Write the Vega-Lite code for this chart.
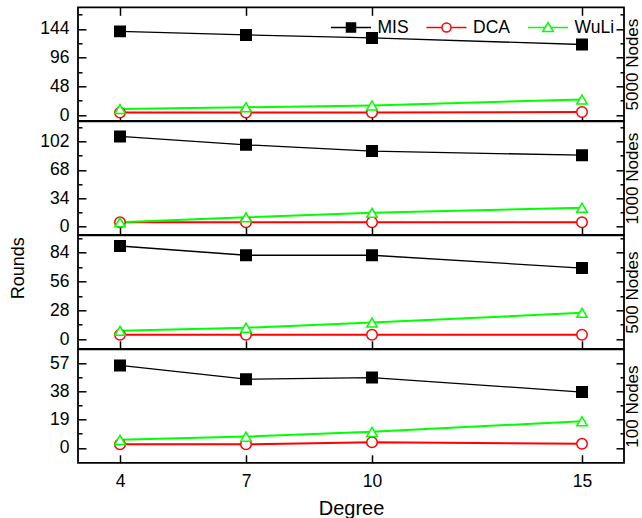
{
  "$schema": "https://vega.github.io/schema/vega-lite/v6.json",
  "autosize": {"type": "none"},
  "padding": {"left": 78, "top": 7.3, "right": 564, "bottom": 510.7},
  "background": "white",
  "data": {"values": [
    {"Panel": "5000", "Degree": 4, "Series": "MIS", "Rounds": 140},
    {"Panel": "5000", "Degree": 7, "Series": "MIS", "Rounds": 134},
    {"Panel": "5000", "Degree": 10, "Series": "MIS", "Rounds": 129},
    {"Panel": "5000", "Degree": 15, "Series": "MIS", "Rounds": 118},
    {"Panel": "5000", "Degree": 4, "Series": "DCA", "Rounds": 4},
    {"Panel": "5000", "Degree": 7, "Series": "DCA", "Rounds": 4},
    {"Panel": "5000", "Degree": 10, "Series": "DCA", "Rounds": 4},
    {"Panel": "5000", "Degree": 15, "Series": "DCA", "Rounds": 5},
    {"Panel": "5000", "Degree": 4, "Series": "WuLi", "Rounds": 10},
    {"Panel": "5000", "Degree": 7, "Series": "WuLi", "Rounds": 13},
    {"Panel": "5000", "Degree": 10, "Series": "WuLi", "Rounds": 16},
    {"Panel": "5000", "Degree": 15, "Series": "WuLi", "Rounds": 26},
    {"Panel": "1000", "Degree": 4, "Series": "MIS", "Rounds": 108},
    {"Panel": "1000", "Degree": 7, "Series": "MIS", "Rounds": 98},
    {"Panel": "1000", "Degree": 10, "Series": "MIS", "Rounds": 90.5},
    {"Panel": "1000", "Degree": 15, "Series": "MIS", "Rounds": 85.5},
    {"Panel": "1000", "Degree": 4, "Series": "DCA", "Rounds": 5},
    {"Panel": "1000", "Degree": 7, "Series": "DCA", "Rounds": 5},
    {"Panel": "1000", "Degree": 10, "Series": "DCA", "Rounds": 5},
    {"Panel": "1000", "Degree": 15, "Series": "DCA", "Rounds": 5},
    {"Panel": "1000", "Degree": 4, "Series": "WuLi", "Rounds": 5},
    {"Panel": "1000", "Degree": 7, "Series": "WuLi", "Rounds": 11},
    {"Panel": "1000", "Degree": 10, "Series": "WuLi", "Rounds": 16.4},
    {"Panel": "1000", "Degree": 15, "Series": "WuLi", "Rounds": 22.5},
    {"Panel": "500", "Degree": 4, "Series": "MIS", "Rounds": 90.5},
    {"Panel": "500", "Degree": 7, "Series": "MIS", "Rounds": 81.5},
    {"Panel": "500", "Degree": 10, "Series": "MIS", "Rounds": 81.5},
    {"Panel": "500", "Degree": 15, "Series": "MIS", "Rounds": 69},
    {"Panel": "500", "Degree": 4, "Series": "DCA", "Rounds": 4.2},
    {"Panel": "500", "Degree": 7, "Series": "DCA", "Rounds": 4.2},
    {"Panel": "500", "Degree": 10, "Series": "DCA", "Rounds": 4.2},
    {"Panel": "500", "Degree": 15, "Series": "DCA", "Rounds": 4.2},
    {"Panel": "500", "Degree": 4, "Series": "WuLi", "Rounds": 8},
    {"Panel": "500", "Degree": 7, "Series": "WuLi", "Rounds": 11},
    {"Panel": "500", "Degree": 10, "Series": "WuLi", "Rounds": 16},
    {"Panel": "500", "Degree": 15, "Series": "WuLi", "Rounds": 25.5},
    {"Panel": "100", "Degree": 4, "Series": "MIS", "Rounds": 55.7},
    {"Panel": "100", "Degree": 7, "Series": "MIS", "Rounds": 46.4},
    {"Panel": "100", "Degree": 10, "Series": "MIS", "Rounds": 47.5},
    {"Panel": "100", "Degree": 15, "Series": "MIS", "Rounds": 37.7},
    {"Panel": "100", "Degree": 4, "Series": "DCA", "Rounds": 2.4},
    {"Panel": "100", "Degree": 7, "Series": "DCA", "Rounds": 2.4},
    {"Panel": "100", "Degree": 10, "Series": "DCA", "Rounds": 3.8},
    {"Panel": "100", "Degree": 15, "Series": "DCA", "Rounds": 2.7},
    {"Panel": "100", "Degree": 4, "Series": "WuLi", "Rounds": 5.4},
    {"Panel": "100", "Degree": 7, "Series": "WuLi", "Rounds": 7.6},
    {"Panel": "100", "Degree": 10, "Series": "WuLi", "Rounds": 10.8},
    {"Panel": "100", "Degree": 15, "Series": "WuLi", "Rounds": 18}
  ]},
  "spacing": 0,
  "bounds": "flush",
  "resolve": {"scale": {"x": "independent", "y": "independent", "color": "independent", "stroke": "independent", "shape": "independent", "fill": "independent", "strokeWidth": "independent"}},
  "vconcat": [
    {
      "width": 546, "height": 113.5,
      "transform": [{"filter": "datum.Panel === '5000'"}],
      "resolve": {"scale": {"x": "independent", "y": "independent", "shape": "independent", "stroke": "independent", "fill": "independent"}},
      "layer": [
        {
          "mark": {"type": "line"},
          "encoding": {
            "x": {"field": "Degree", "type": "quantitative", "scale": {"domain": [3, 16]}, "axis": {"values": [4, 7, 10, 15], "tickSize": -8, "labels": false, "title": null}},
            "y": {"field": "Rounds", "type": "quantitative", "scale": {"domain": [-9.7, 180.3]}, "axis": {"values": [0, 24, 48, 72, 96, 120, 144, 168], "labelExpr": "datum.value % 48 === 0 ? datum.label : ''", "tickSize": {"condition": {"test": "datum.value % 48 === 0", "value": -8}, "value": -4}, "labelPadding": 17, "title": null}},
            "color": {"field": "Series", "type": "nominal", "scale": {"domain": ["MIS", "DCA", "WuLi"], "range": ["#000000", "#ff0000", "#00ff00"]}, "legend": null},
            "strokeWidth": {"field": "Series", "type": "nominal", "scale": {"type": "ordinal", "domain": ["MIS", "DCA", "WuLi"], "range": [1.3, 2, 2]}, "legend": null}
          }
        },
        {
          "mark": {"type": "point", "filled": true, "opacity": 1, "size": 110, "strokeWidth": 1.5},
          "encoding": {
            "x": {"field": "Degree", "type": "quantitative", "scale": {"domain": [3, 16]}, "axis": null},
            "y": {"field": "Rounds", "type": "quantitative", "scale": {"domain": [-9.7, 180.3]}, "axis": null},
            "shape": {"field": "Series", "type": "nominal", "scale": {"domain": ["MIS", "DCA", "WuLi"], "range": ["square", "circle", "triangle-up"]}, "legend": null},
            "stroke": {"field": "Series", "type": "nominal", "scale": {"domain": ["MIS", "DCA", "WuLi"], "range": ["#000000", "#ff0000", "#00ff00"]}, "legend": null},
            "fill": {"field": "Series", "type": "nominal", "scale": {"domain": ["MIS", "DCA", "WuLi"], "range": ["#000000", "#ffffff", "#ffffff"]}, "legend": null}
          }
        },
        {
          "mark": {"type": "point", "opacity": 0, "size": 400, "strokeWidth": 1.5},
          "encoding": {
            "x": {"field": "Degree", "type": "quantitative", "scale": {"domain": [3, 16]}, "axis": {"orient": "top", "values": [4, 7, 10, 15], "tickSize": -8, "labels": false, "title": null}},
            "y": {"field": "Rounds", "type": "quantitative", "scale": {"domain": [-9.7, 180.3]}, "axis": {"orient": "right", "values": [0, 24, 48, 72, 96, 120, 144, 168], "labels": false, "tickSize": {"condition": {"test": "datum.value % 48 === 0", "value": -8}, "value": -4}, "title": "5000 Nodes", "titleAngle": 270, "titleBaseline": "top", "titlePadding": 0, "titleFontSize": 17}},
            "shape": {"field": "Series", "type": "nominal",
              "scale": {"domain": ["MIS", "DCA", "WuLi"], "range": [
                "M-2,0H-0.45M0.45,0H2M-0.45,-0.45H0.45V0.45H-0.45Z",
                "M-2,0H-0.45M0.45,0H2M-0.45,0A0.45,0.45,0,1,0,0.45,0A0.45,0.45,0,1,0,-0.45,0Z",
                "M-2,0H-0.3M0.3,0H2M0,-0.5L0.53,0.4L-0.53,0.4Z"]},
              "legend": {"orient": "top-right", "direction": "horizontal", "title": null, "offset": 9, "padding": 0, "symbolSize": 400, "symbolStrokeWidth": 1.5, "symbolOpacity": 1, "labelFontSize": 17.5, "labelFont": "Liberation Sans", "labelColor": "black", "labelOffset": 15.5, "columnPadding": 14.5}},
            "stroke": {"field": "Series", "type": "nominal", "scale": {"domain": ["MIS", "DCA", "WuLi"], "range": ["#000000", "#ff0000", "#00ff00"]},
              "legend": {"orient": "top-right", "direction": "horizontal", "title": null, "offset": 9, "padding": 0, "symbolSize": 400, "symbolStrokeWidth": 1.5, "symbolOpacity": 1, "labelFontSize": 17.5, "labelFont": "Liberation Sans", "labelColor": "black", "labelOffset": 15.5, "columnPadding": 14.5}},
            "fill": {"field": "Series", "type": "nominal", "scale": {"domain": ["MIS", "DCA", "WuLi"], "range": ["#000000", "transparent", "transparent"]},
              "legend": {"orient": "top-right", "direction": "horizontal", "title": null, "offset": 9, "padding": 0, "symbolSize": 400, "symbolStrokeWidth": 1.5, "symbolOpacity": 1, "labelFontSize": 17.5, "labelFont": "Liberation Sans", "labelColor": "black", "labelOffset": 15.5, "columnPadding": 14.5}}
          }
        }
      ]
    },
    {
      "width": 546, "height": 113.5,
      "transform": [{"filter": "datum.Panel === '1000'"}],
      "resolve": {"scale": {"x": "independent", "y": "independent", "shape": "independent", "stroke": "independent", "fill": "independent"}},
      "layer": [
        {
          "mark": {"type": "line"},
          "encoding": {
            "x": {"field": "Degree", "type": "quantitative", "scale": {"domain": [3, 16]}, "axis": {"values": [4, 7, 10, 15], "tickSize": -8, "labels": false, "title": null}},
            "y": {"field": "Rounds", "type": "quantitative", "scale": {"domain": [-10, 126.2]}, "axis": {"values": [0, 17, 34, 51, 68, 85, 102, 119], "labelExpr": "datum.value % 34 === 0 ? datum.label : ''", "tickSize": {"condition": {"test": "datum.value % 34 === 0", "value": -8}, "value": -4}, "labelPadding": 17, "title": "Rounds", "titleY": 146.5, "titleAlign": "center", "titlePadding": 12, "titleFontSize": 18}},
            "color": {"field": "Series", "type": "nominal", "scale": {"domain": ["MIS", "DCA", "WuLi"], "range": ["#000000", "#ff0000", "#00ff00"]}, "legend": null},
            "strokeWidth": {"field": "Series", "type": "nominal", "scale": {"type": "ordinal", "domain": ["MIS", "DCA", "WuLi"], "range": [1.3, 2, 2]}, "legend": null}
          }
        },
        {
          "mark": {"type": "point", "filled": true, "opacity": 1, "size": 110, "strokeWidth": 1.5},
          "encoding": {
            "x": {"field": "Degree", "type": "quantitative", "scale": {"domain": [3, 16]}, "axis": null},
            "y": {"field": "Rounds", "type": "quantitative", "scale": {"domain": [-10, 126.2]}, "axis": null},
            "shape": {"field": "Series", "type": "nominal", "scale": {"domain": ["MIS", "DCA", "WuLi"], "range": ["square", "circle", "triangle-up"]}, "legend": null},
            "stroke": {"field": "Series", "type": "nominal", "scale": {"domain": ["MIS", "DCA", "WuLi"], "range": ["#000000", "#ff0000", "#00ff00"]}, "legend": null},
            "fill": {"field": "Series", "type": "nominal", "scale": {"domain": ["MIS", "DCA", "WuLi"], "range": ["#000000", "#ffffff", "#ffffff"]}, "legend": null}
          }
        },
        {
          "mark": {"type": "point", "opacity": 0},
          "encoding": {
            "x": {"field": "Degree", "type": "quantitative", "scale": {"domain": [3, 16]}, "axis": null},
            "y": {"field": "Rounds", "type": "quantitative", "scale": {"domain": [-10, 126.2]}, "axis": {"orient": "right", "values": [0, 17, 34, 51, 68, 85, 102, 119], "labels": false, "tickSize": {"condition": {"test": "datum.value % 34 === 0", "value": -8}, "value": -4}, "title": "1000 Nodes", "titleAngle": 270, "titleBaseline": "top", "titlePadding": 0, "titleFontSize": 17}}
          }
        }
      ]
    },
    {
      "width": 546, "height": 113.5,
      "transform": [{"filter": "datum.Panel === '500'"}],
      "resolve": {"scale": {"x": "independent", "y": "independent", "shape": "independent", "stroke": "independent", "fill": "independent"}},
      "layer": [
        {
          "mark": {"type": "line"},
          "encoding": {
            "x": {"field": "Degree", "type": "quantitative", "scale": {"domain": [3, 16]}, "axis": {"values": [4, 7, 10, 15], "tickSize": -8, "labels": false, "title": null}},
            "y": {"field": "Rounds", "type": "quantitative", "scale": {"domain": [-9.5, 100.9]}, "axis": {"values": [0, 14, 28, 42, 56, 70, 84, 98], "labelExpr": "datum.value % 28 === 0 ? datum.label : ''", "tickSize": {"condition": {"test": "datum.value % 28 === 0", "value": -8}, "value": -4}, "labelPadding": 17, "title": null}},
            "color": {"field": "Series", "type": "nominal", "scale": {"domain": ["MIS", "DCA", "WuLi"], "range": ["#000000", "#ff0000", "#00ff00"]}, "legend": null},
            "strokeWidth": {"field": "Series", "type": "nominal", "scale": {"type": "ordinal", "domain": ["MIS", "DCA", "WuLi"], "range": [1.3, 2, 2]}, "legend": null}
          }
        },
        {
          "mark": {"type": "point", "filled": true, "opacity": 1, "size": 110, "strokeWidth": 1.5},
          "encoding": {
            "x": {"field": "Degree", "type": "quantitative", "scale": {"domain": [3, 16]}, "axis": null},
            "y": {"field": "Rounds", "type": "quantitative", "scale": {"domain": [-9.5, 100.9]}, "axis": null},
            "shape": {"field": "Series", "type": "nominal", "scale": {"domain": ["MIS", "DCA", "WuLi"], "range": ["square", "circle", "triangle-up"]}, "legend": null},
            "stroke": {"field": "Series", "type": "nominal", "scale": {"domain": ["MIS", "DCA", "WuLi"], "range": ["#000000", "#ff0000", "#00ff00"]}, "legend": null},
            "fill": {"field": "Series", "type": "nominal", "scale": {"domain": ["MIS", "DCA", "WuLi"], "range": ["#000000", "#ffffff", "#ffffff"]}, "legend": null}
          }
        },
        {
          "mark": {"type": "point", "opacity": 0},
          "encoding": {
            "x": {"field": "Degree", "type": "quantitative", "scale": {"domain": [3, 16]}, "axis": null},
            "y": {"field": "Rounds", "type": "quantitative", "scale": {"domain": [-9.5, 100.9]}, "axis": {"orient": "right", "values": [0, 14, 28, 42, 56, 70, 84, 98], "labels": false, "tickSize": {"condition": {"test": "datum.value % 28 === 0", "value": -8}, "value": -4}, "title": "500 Nodes", "titleAngle": 270, "titleBaseline": "top", "titlePadding": 0, "titleFontSize": 17}}
          }
        }
      ]
    },
    {
      "width": 546, "height": 113.5,
      "transform": [{"filter": "datum.Panel === '100'"}],
      "resolve": {"scale": {"x": "independent", "y": "independent", "shape": "independent", "stroke": "independent", "fill": "independent"}},
      "layer": [
        {
          "mark": {"type": "line"},
          "encoding": {
            "x": {"field": "Degree", "type": "quantitative", "scale": {"domain": [3, 16]}, "axis": {"values": [4, 7, 10, 15], "tickSize": -8, "labelPadding": 18, "title": "Degree", "titlePadding": 8, "titleFontSize": 20}},
            "y": {"field": "Rounds", "type": "quantitative", "scale": {"domain": [-10.1, 66.6]}, "axis": {"values": [0, 9.5, 19, 28.5, 38, 47.5, 57], "labelExpr": "datum.value % 19 === 0 ? datum.label : ''", "tickSize": {"condition": {"test": "datum.value % 19 === 0", "value": -8}, "value": -4}, "labelPadding": 17, "title": null}},
            "color": {"field": "Series", "type": "nominal", "scale": {"domain": ["MIS", "DCA", "WuLi"], "range": ["#000000", "#ff0000", "#00ff00"]}, "legend": null},
            "strokeWidth": {"field": "Series", "type": "nominal", "scale": {"type": "ordinal", "domain": ["MIS", "DCA", "WuLi"], "range": [1.3, 2, 2]}, "legend": null}
          }
        },
        {
          "mark": {"type": "point", "filled": true, "opacity": 1, "size": 110, "strokeWidth": 1.5},
          "encoding": {
            "x": {"field": "Degree", "type": "quantitative", "scale": {"domain": [3, 16]}, "axis": null},
            "y": {"field": "Rounds", "type": "quantitative", "scale": {"domain": [-10.1, 66.6]}, "axis": null},
            "shape": {"field": "Series", "type": "nominal", "scale": {"domain": ["MIS", "DCA", "WuLi"], "range": ["square", "circle", "triangle-up"]}, "legend": null},
            "stroke": {"field": "Series", "type": "nominal", "scale": {"domain": ["MIS", "DCA", "WuLi"], "range": ["#000000", "#ff0000", "#00ff00"]}, "legend": null},
            "fill": {"field": "Series", "type": "nominal", "scale": {"domain": ["MIS", "DCA", "WuLi"], "range": ["#000000", "#ffffff", "#ffffff"]}, "legend": null}
          }
        },
        {
          "mark": {"type": "point", "opacity": 0},
          "encoding": {
            "x": {"field": "Degree", "type": "quantitative", "scale": {"domain": [3, 16]}, "axis": null},
            "y": {"field": "Rounds", "type": "quantitative", "scale": {"domain": [-10.1, 66.6]}, "axis": {"orient": "right", "values": [0, 9.5, 19, 28.5, 38, 47.5, 57], "labels": false, "tickSize": {"condition": {"test": "datum.value % 19 === 0", "value": -8}, "value": -4}, "title": "100 Nodes", "titleAngle": 270, "titleBaseline": "top", "titlePadding": 0, "titleFontSize": 17}}
          }
        }
      ]
    }
  ],
  "config": {
    "font": "Liberation Sans",
    "view": {"stroke": "black", "strokeWidth": 1.8},
    "axis": {"domain": false, "grid": false, "tickColor": "black", "tickWidth": 1.5, "labelFont": "Liberation Sans", "labelFontSize": 17.5, "labelColor": "black", "titleFont": "Liberation Sans", "titleFontSize": 18, "titleFontWeight": "normal", "titleColor": "black"},
    "legend": {"labelFont": "Liberation Sans"}
  }
}
